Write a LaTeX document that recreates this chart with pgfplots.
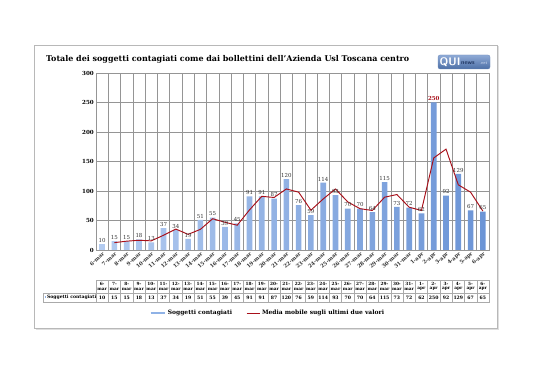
\documentclass[border=0pt]{standalone}
\usepackage{pgfplots}
\pgfplotsset{compat=1.18}
\usepackage{pgfplotstable}
\usepackage{fontspec}
\setmainfont{DejaVu Serif}
\definecolor{barlight}{HTML}{B3CBF0}
\definecolor{bardark}{HTML}{6B94D6}
\definecolor{barblue}{HTML}{8FB2E6}
\definecolor{avgred}{HTML}{A8101A}
\definecolor{gridgray}{HTML}{959595}
\definecolor{framegray}{HTML}{B8B8B8}
\definecolor{logotop}{HTML}{8FAAD6}
\definecolor{logobot}{HTML}{4C6FA6}
\definecolor{logoedge}{HTML}{6F8BBA}
\definecolor{logonews}{HTML}{1F3560}
\definecolor{logonet}{HTML}{C9D6EC}

\pgfplotstableread{
x lab val avg vl d m
0 6-mar 10 nan 10 6- mar
1 7-mar 15 12.5 15 7- mar
2 8-mar 15 15 15 8- mar
3 9-mar 18 16.5 18 9- mar
4 10-mar 13 15.5 13 10- mar
5 11-mar 37 25 37 11- mar
6 12-mar 34 35.5 34 12- mar
7 13-mar 19 26.5 19 13- mar
8 14-mar 51 35 51 14- mar
9 15-mar 55 53 55 15- mar
10 16-mar 39 47 39 16- mar
11 17-mar 45 42 45 17- mar
12 18-mar 91 68 91 18- mar
13 19-mar 91 91 91 19- mar
14 20-mar 87 89 87 20- mar
15 21-mar 120 103.5 120 21- mar
16 22-mar 76 98 76 22- mar
17 23-mar 59 67.5 59 23- mar
18 24-mar 114 86.5 114 24- mar
19 25-mar 93 103.5 93 25- mar
20 26-mar 70 81.5 70 26- mar
21 27-mar 70 70 70 27- mar
22 28-mar 64 67 64 28- mar
23 29-mar 115 89.5 115 29- mar
24 30-mar 73 94 73 30- mar
25 31-mar 72 72.5 72 31- mar
26 1-apr 62 67 62 1- apr
27 2-apr 250 156 {\textcolor{avgred}{\bfseries250}} 2- apr
28 3-apr 92 171 92 3- apr
29 4-apr 129 110.5 129 4- apr
30 5-apr 67 98 67 5- apr
31 6-apr 65 66 65 6- apr
}\data

\begin{document}
\begin{tikzpicture}
\useasboundingbox (0,0) rectangle (538bp,380bp);
\fill[white] (0,0) rectangle (538bp,380bp);
% frame with soft shadow
\draw[gray!25, line width=1.4bp] (35.5bp,51bp) -- (498.5bp,51bp) -- (498.5bp,334bp);
\draw[framegray, line width=0.6bp, fill=white] (34bp,52bp) rectangle (497bp,335bp);

\begin{axis}[
  at={(96bp,130bp)}, anchor=south west, scale only axis,
  width=393bp, height=177bp,
  xmin=-0.5, xmax=31.5, ymin=0, ymax=300,
  ytick={0,50,...,300},
  xtick={0,...,31}, xticklabels from table={\data}{lab},
  minor xtick={-0.5,0.5,...,31.5},
  xminorgrids, ymajorgrids,
  grid style={gridgray, line width=0.45bp},
  minor grid style={gridgray, line width=0.45bp},
  major tick length=0pt, minor tick length=0pt,
  axis line style={gridgray, line width=0.5bp},
  /pgf/number format/assume math mode=true,
  x tick label style={rotate=42, anchor=north east, inner sep=1bp,
     font=\bfseries\fontsize{5.2}{6}\selectfont, text=black!80},
  y tick label style={font=\bfseries\fontsize{5.6}{6}\selectfont, inner sep=2bp},
  clip=false,
  legend style={at={(0.437,-0.356)}, anchor=center, draw=none, fill=none,
     font=\bfseries\fontsize{6}{7}\selectfont, legend columns=2,
     /tikz/every even column/.append style={column sep=12bp}},
  legend cell align=left,
]
\addplot[ybar, bar width=0.46, draw=none, left color=barlight, right color=bardark,
   nodes near coords, point meta=explicit symbolic,
   every node near coord/.append style={font=\fontsize{5.5}{6}\selectfont, text=black!80, inner sep=1.5bp},
   legend image code/.code={\draw[barblue, line width=2.4bp] (0bp,0bp) -- (14bp,0bp);}]
   table[x=x, y=val, meta=vl] {\data};
\addlegendentry{Soggetti contagiati}
\addplot[avgred, line width=0.95bp, mark=none,
   legend image code/.code={\draw[avgred, line width=0.9bp] (0bp,0bp) -- (13bp,0bp);}]
   table[x=x, y=avg] {\data};
\addlegendentry{Media mobile sugli ultimi due valori}
\end{axis}

% data table
\begin{axis}[
  at={(96bp,78bp)}, anchor=south west, scale only axis,
  width=393bp, height=22bp,
  xmin=-0.5, xmax=31.5, ymin=0, ymax=22,
  xtick={-0.5,0.5,...,31.5}, xticklabels={}, ytick={9}, yticklabels={},
  xmajorgrids, ymajorgrids,
  grid style={gridgray!80, line width=0.4bp},
  axis line style={gridgray!80, line width=0.4bp},
  major tick length=0pt,
  clip=false,
]
\addplot[draw=none, mark=none, nodes near coords, point meta=explicit symbolic,
   every node near coord/.append style={anchor=center, inner sep=0pt, font=\bfseries\fontsize{4.3}{5}\selectfont}]
   table[x=x, y expr=18.3, meta=d] {\data};
\addplot[draw=none, mark=none, nodes near coords, point meta=explicit symbolic,
   every node near coord/.append style={anchor=center, inner sep=0pt, font=\bfseries\fontsize{4.3}{5}\selectfont}]
   table[x=x, y expr=12.8, meta=m] {\data};
\addplot[draw=none, mark=none, nodes near coords, point meta=explicit symbolic,
   every node near coord/.append style={anchor=center, inner sep=0pt, font=\bfseries\fontsize{4.6}{5}\selectfont}]
   table[x=x, y expr=4.5, meta=val] {\data};
\end{axis}
% row header cell
\draw[gridgray!80, line width=0.4bp] (43bp,78bp) rectangle (96bp,87bp);
\fill[barblue] (44.5bp,81.5bp) rectangle (46.3bp,83.5bp);
\node[anchor=west, inner sep=0pt, font=\bfseries\fontsize{4.6}{5}\selectfont] at (46.8bp,82.5bp) {Soggetti contagiati};

% title
\node[anchor=base west, inner sep=0pt, font=\bfseries\fontsize{8}{9}\selectfont] at (46bp,318bp)
  {Totale dei soggetti contagiati come dai bollettini dell'Azienda Usl Toscana centro};

% logo
\shade[top color=logotop, bottom color=logobot, rounded corners=2bp, draw=logoedge, line width=0.3bp]
  (438bp,311bp) rectangle (490bp,325bp);
\node[anchor=west, inner sep=0pt, text=white, font=\sffamily\bfseries\fontsize{11}{11}\selectfont] at (439.5bp,317.8bp) {QUI};
\node[anchor=west, inner sep=0pt, text=logonews, font=\sffamily\bfseries\fontsize{6}{6}\selectfont] at (461bp,317bp) {news};
\node[anchor=west, inner sep=0pt, text=logonet, font=\sffamily\fontsize{4.5}{5}\selectfont] at (479.5bp,316.8bp) {.net};
\end{tikzpicture}
\end{document}
